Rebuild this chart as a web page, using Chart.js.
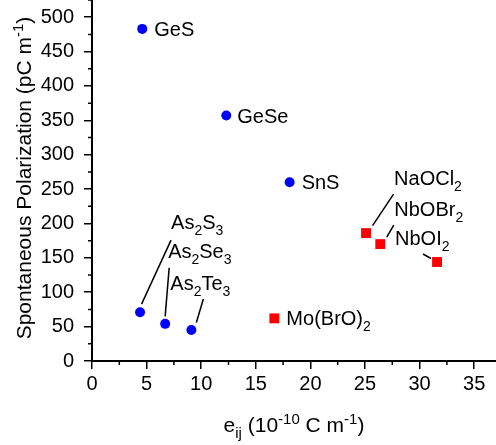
<!DOCTYPE html>
<html lang="en">
<head>
    <meta charset="UTF-8">
    <title>Spontaneous Polarization vs e_ij</title>
    <script src="https://cdn.jsdelivr.net/npm/chart.js"></script>
    <style>
        body {
            margin: 0;
            background: #fff;
        }
        #wrap {
            width: 496px;
            height: 445px;
        }
    </style>
</head>
<body>
    <div id="wrap"><canvas id="myChart" width="496" height="445"></canvas></div>
    <script>
        // chalcogenides (blue circles)
        const blueNames = ['GeS', 'GeSe', 'SnS', 'As_{2}S_{3}', 'As_{2}Se_{3}', 'As_{2}Te_{3}'];
        const blueX = [4.6, 12.3, 18.1, 4.4, 6.7, 9.1];
        const blueY = [483, 357, 260, 71, 54, 45];

        // oxyhalides (red squares)
        const redNames = ['NaOCl_{2}', 'NbOBr_{2}', 'NbOI_{2}', 'Mo(BrO)_{2}'];
        const redX = [25.1, 26.4, 31.6, 16.7];
        const redY = [186, 170, 144, 62];

        const xTitle = 'e_{ij} (10^{-10} C m^{-1})';
        const yTitle = 'Spontaneous Polarization (pC m^{-1})';

        // label placement (pixels relative to the point) and leader lines
        const labelLayout = {
            'GeS': { dx: 12, dy: 0 },
            'GeSe': { dx: 11, dy: 0 },
            'SnS': { dx: 12, dy: 0 },
            'As_{2}S_{3}': { dx: 31, dy: -90, line: [31, -72, 1.5, -8] },
            'As_{2}Se_{3}': { dx: 3, dy: -73, line: [4, -56, 0, -7.5] },
            'As_{2}Te_{3}': { dx: -21, dy: -47, line: [12, -31, 5, -7.5] },
            'NaOCl_{2}': { dx: 28, dy: -55, line: [27.5, -39, 6.5, -7.5] },
            'NbOBr_{2}': { dx: 14, dy: -35, line: [13.5, -19, 6.5, -7] },
            'NbOI_{2}': { dx: -42, dy: -24, line: [-14, -8, -6, -3.5] },
            'Mo(BrO)_{2}': { dx: 12, dy: 0 }
        };

        const FONT = "'Liberation Sans', Arial, sans-serif";

        function parseRich(s) {
            const parts = [];
            const re = /([_^])\{([^}]*)\}/g;
            let last = 0, m;
            while ((m = re.exec(s))) {
                if (m.index > last) parts.push({ t: s.slice(last, m.index), k: '' });
                parts.push({ t: m[2], k: m[1] });
                last = re.lastIndex;
            }
            if (last < s.length) parts.push({ t: s.slice(last), k: '' });
            return parts;
        }

        // draws text with _{sub} and ^{sup}; y is the baseline
        function drawRich(ctx, s, x, y, size, align) {
            const parts = parseRich(s);
            const small = Math.round(size * 0.7);
            let w = 0;
            parts.forEach(p => {
                ctx.font = (p.k ? small : size) + 'px ' + FONT;
                p.w = ctx.measureText(p.t).width;
                w += p.w;
            });
            if (align === 'center') x -= w / 2;
            ctx.textAlign = 'left';
            ctx.textBaseline = 'alphabetic';
            parts.forEach(p => {
                ctx.font = (p.k ? small : size) + 'px ' + FONT;
                let yy = y;
                if (p.k === '_') yy = y + size * 0.3;
                if (p.k === '^') yy = y - size * 0.4;
                ctx.fillText(p.t, x, yy);
                x += p.w;
            });
        }

        const decorPlugin = {
            id: 'decor',
            afterDraw(chart) {
                const ctx = chart.ctx;
                const xs = chart.scales.x, ys = chart.scales.y;
                const area = chart.chartArea;
                ctx.save();
                ctx.strokeStyle = '#000';
                ctx.fillStyle = '#000';

                // minor ticks
                ctx.lineWidth = 1.5;
                ctx.beginPath();
                for (let v = 2.5; v <= xs.max; v += 5) {
                    const px = xs.getPixelForValue(v);
                    ctx.moveTo(px, area.bottom);
                    ctx.lineTo(px, area.bottom + 4);
                }
                for (let v = 25; v <= ys.max; v += 50) {
                    const py = ys.getPixelForValue(v);
                    ctx.moveTo(area.left, py);
                    ctx.lineTo(area.left - 4, py);
                }
                ctx.stroke();

                // point labels and leader lines
                const groups = [[blueNames, blueX, blueY], [redNames, redX, redY]];
                groups.forEach(([names, xv, yv]) => {
                    names.forEach((name, i) => {
                        const px = xs.getPixelForValue(xv[i]);
                        const py = ys.getPixelForValue(yv[i]);
                        const lay = labelLayout[name];
                        if (lay.line) {
                            ctx.lineWidth = 1.5;
                            ctx.beginPath();
                            ctx.moveTo(px + lay.line[0], py + lay.line[1]);
                            ctx.lineTo(px + lay.line[2], py + lay.line[3]);
                            ctx.stroke();
                        }
                        drawRich(ctx, name, px + lay.dx, py + lay.dy + 7, 20, 'left');
                    });
                });

                // axis titles
                drawRich(ctx, xTitle, (area.left + area.right) / 2, area.bottom + 71, 21, 'center');
                ctx.translate(31, area.top + 178);
                ctx.rotate(-Math.PI / 2);
                drawRich(ctx, yTitle, 0, 0, 21, 'center');
                ctx.restore();
            }
        };

        function toPoints(xv, yv) {
            return xv.map((x, i) => ({ x: x, y: yv[i] }));
        }

        const ctx = document.getElementById('myChart').getContext('2d');
        const myChart = new Chart(ctx, {
            type: 'scatter',
            data: {
                datasets: [
                    {
                        label: 'chalcogenides',
                        data: toPoints(blueX, blueY),
                        pointStyle: 'circle',
                        pointRadius: 5,
                        backgroundColor: '#0000ff',
                        borderColor: '#0000ff',
                        borderWidth: 0
                    },
                    {
                        label: 'oxyhalides',
                        data: toPoints(redX, redY),
                        pointStyle: 'rect',
                        pointRadius: 7,
                        backgroundColor: '#ff0000',
                        borderColor: '#ff0000',
                        borderWidth: 0
                    }
                ]
            },
            options: {
                responsive: false,
                animation: false,
                layout: { padding: 0, autoPadding: false },
                plugins: {
                    legend: { display: false },
                    tooltip: { enabled: false }
                },
                scales: {
                    x: {
                        type: 'linear',
                        min: 0,
                        max: 37,
                        afterFit(s) {
                            s.height = 84;
                            s.paddingLeft = 0; s.paddingRight = 0;
                            s.paddingTop = 0; s.paddingBottom = 0;
                        },
                        border: { display: true, color: '#000', width: 2 },
                        grid: { drawOnChartArea: false, drawTicks: true, tickLength: 8, color: '#000', lineWidth: 1.5 },
                        ticks: {
                            stepSize: 5,
                            includeBounds: false,
                            color: '#000',
                            padding: 3,
                            maxRotation: 0,
                            font: { family: FONT, size: 20 }
                        }
                    },
                    y: {
                        type: 'linear',
                        min: 0,
                        max: 525,
                        afterFit(s) {
                            s.width = 92;
                            s.paddingLeft = 0; s.paddingRight = 0;
                            s.paddingTop = 0; s.paddingBottom = 0;
                        },
                        border: { display: true, color: '#000', width: 2 },
                        grid: { drawOnChartArea: false, drawTicks: true, tickLength: 8, color: '#000', lineWidth: 1.5 },
                        ticks: {
                            stepSize: 50,
                            includeBounds: false,
                            color: '#000',
                            padding: 10,
                            font: { family: FONT, size: 20 }
                        }
                    }
                }
            },
            plugins: [decorPlugin]
        });
    </script>
</body>
</html>
